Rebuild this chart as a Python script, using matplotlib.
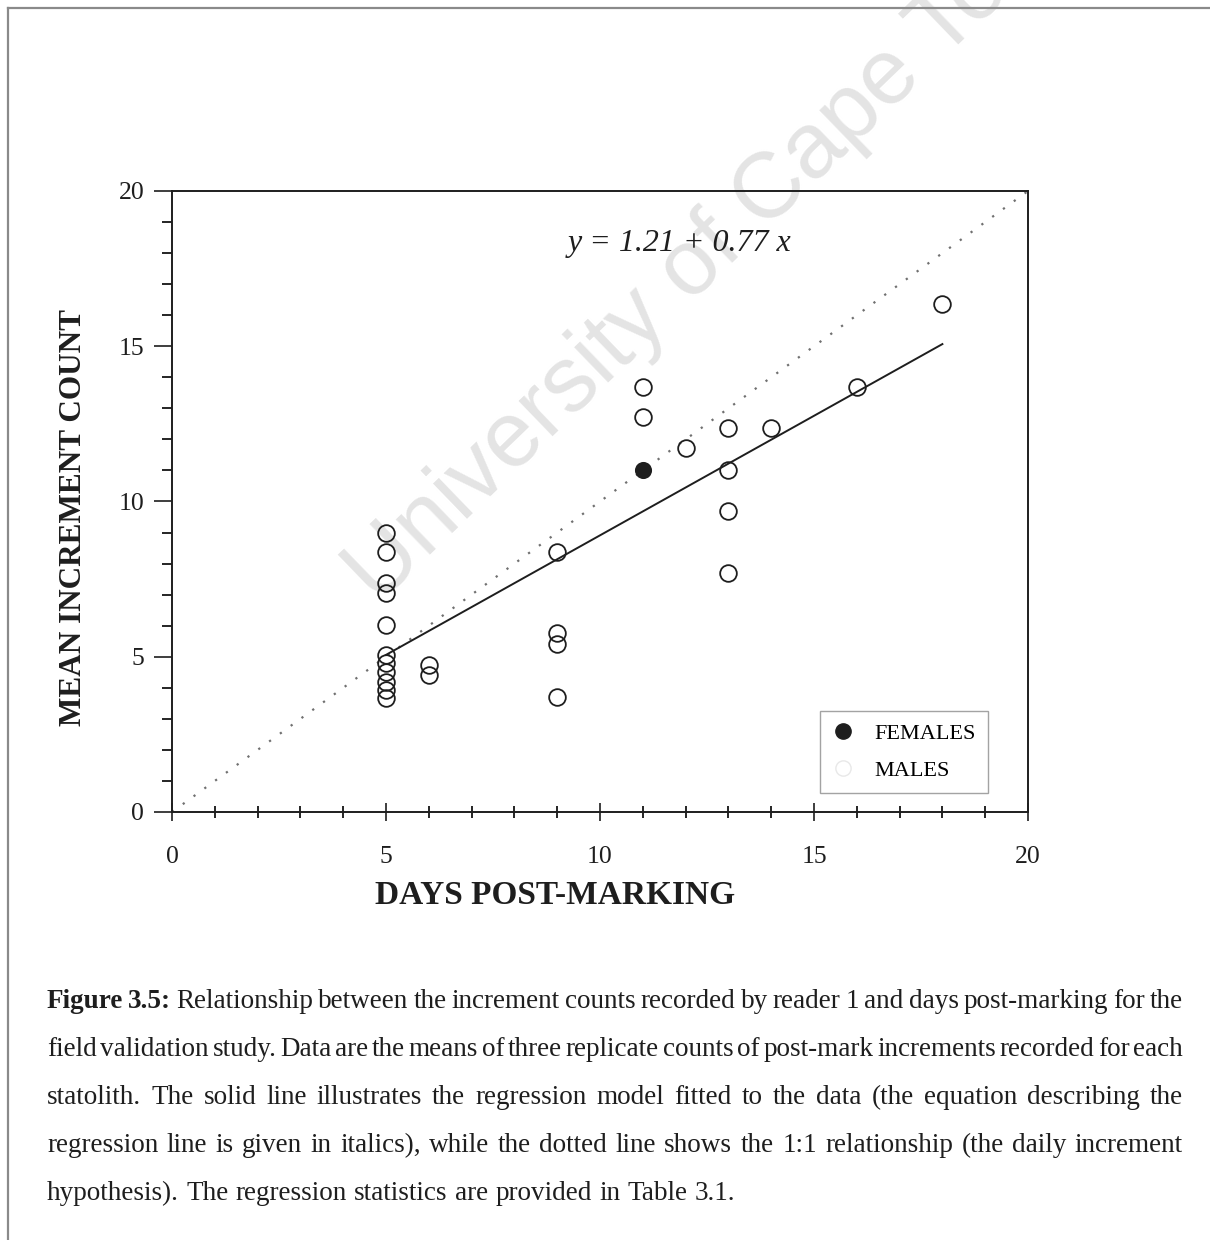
import matplotlib
matplotlib.use("Agg")
import matplotlib.pyplot as plt
from matplotlib.lines import Line2D
from matplotlib.ticker import MultipleLocator

# mean increment counts per statolith (days post-marking, count)
male_days = [5, 5, 5, 5, 5, 5, 5, 5, 5, 5, 5,
             6, 6,
             9, 9, 9, 9,
             11, 11,
             12,
             13, 13, 13, 13,
             14, 16, 18]
male_counts = [9.0, 8.36, 7.36, 7.04, 6.02, 5.07, 4.8, 4.5, 4.2, 3.92, 3.66,
               4.72, 4.4,
               8.37, 5.75, 5.42, 3.7,
               13.69, 12.72,
               11.72,
               12.37, 11.01, 9.68, 7.7,
               12.37, 13.69, 16.36]
female_days = [11]
female_counts = [11.01]

# regression y = a + b x
reg_a = 1.21
reg_b = 0.77
reg_x = [5, 18]

W, H = 1210, 1240
plt.rcParams['font.family'] = ['Liberation Serif', 'DejaVu Serif']
ink = '#1e1e1e'

fig = plt.figure(figsize=(W / 100, H / 100), dpi=100)
fig.patch.set_facecolor('white')

# page border lines (left and top)
fig.add_artist(Line2D([8 / W, 8 / W], [0, 1 - 8 / H], color='#8a8a8a', lw=1.6))
fig.add_artist(Line2D([8 / W, 1], [1 - 8 / H, 1 - 8 / H], color='#8a8a8a', lw=1.6))

# watermark
fig.text(378 / W, 1 - 605 / H, 'University of Cape Town', family='Liberation Sans',
         fontsize=67, color='#e4e4e4', rotation=44, rotation_mode='anchor',
         ha='left', va='baseline', zorder=-1)

ax = fig.add_axes([172 / W, 1 - 812 / H, 856 / W, 621 / H])
ax.patch.set_alpha(0)

# 1:1 line and fitted regression
ax.plot([0, 20], [0, 20], color='#707070', lw=1.6, linestyle=(0, (1, 5)))
ax.plot(reg_x, [reg_a + reg_b * x for x in reg_x], color=ink, lw=1.4)

ax.plot(male_days, male_counts, 'o', ms=12, mfc='none', mec=ink, mew=1.3)
ax.plot(female_days, female_counts, 'o', ms=11, mfc=ink, mec=ink, mew=1.3)

ax.text(11.87, 18.3, 'y = 1.21 + 0.77 x', style='italic', fontsize=23,
        ha='center', va='center', color=ink)

ax.set_xlim(0, 20)
ax.set_ylim(0, 20)
ax.xaxis.set_major_locator(MultipleLocator(5))
ax.xaxis.set_minor_locator(MultipleLocator(1))
ax.yaxis.set_major_locator(MultipleLocator(5))
ax.yaxis.set_minor_locator(MultipleLocator(1))

ax.tick_params(axis='x', which='major', direction='inout', length=13, width=1.2,
               pad=18, labelsize=18.5, colors=ink)
ax.tick_params(axis='x', which='minor', direction='inout', length=9, width=1.2)
ax.tick_params(axis='y', which='major', direction='out', length=13, width=1.2,
               pad=7, labelsize=18.5, colors=ink)
ax.tick_params(axis='y', which='minor', direction='out', length=7, width=1.2)
for s in ax.spines.values():
    s.set_linewidth(1.4)
    s.set_color(ink)

handles = [Line2D([], [], marker='o', ls='none', ms=11, mfc=ink, mec=ink),
           Line2D([], [], marker='o', ls='none', ms=11, mfc='none', mec='#e8e8e8')]
leg = ax.legend(handles, ['FEMALES', 'MALES'], loc='lower right',
                bbox_to_anchor=(0.953, 0.03), fontsize=16, frameon=True,
                fancybox=False, edgecolor='#8c8c8c', handlelength=1.0,
                handletextpad=0.9, labelspacing=0.75, borderpad=0.55,
                borderaxespad=0)
leg.get_frame().set_linewidth(1.0)

fig.text(555 / W, 1 - 895 / H, 'DAYS POST-MARKING', fontsize=24, weight='bold',
         ha='center', va='center', color=ink)
fig.text(74 / W, 1 - 517 / H, 'MEAN INCREMENT COUNT', fontsize=22.5, weight='bold',
         ha='center', va='center', rotation=90, color=ink)

# caption, justified between two margins
caption = [
    [('Figure', 'bold'), ('3.5:', 'bold'), 'Relationship', 'between', 'the',
     'increment', 'counts', 'recorded', 'by', 'reader', '1', 'and', 'days',
     'post-marking', 'for', 'the'],
    'field validation study.  Data are the means of three replicate counts of '
    'post-mark increments recorded for each'.split(' '),
    'statolith.  The solid line illustrates the regression model fitted to the '
    'data (the equation describing the'.split(' '),
    'regression line is given in italics), while the dotted line shows the 1:1 '
    'relationship (the daily increment'.split(' '),
    'hypothesis).  The regression statistics are provided in Table 3.1.'.split(' '),
]
cap_size = 19.5
left, right = 47, 1183
baselines = [1008, 1056, 1104, 1152, 1200]

fig.canvas.draw()
renderer = fig.canvas.get_renderer()
for i, line in enumerate(caption):
    texts = []
    for w in line:
        if w == '':
            continue
        word, weight = (w if isinstance(w, tuple) else (w, 'normal'))
        t = fig.text(0, 1 - baselines[i] / H, word, fontsize=cap_size,
                     weight=weight, ha='left', va='baseline', color=ink)
        texts.append(t)
    widths = [t.get_window_extent(renderer).width for t in texts]
    if i == len(caption) - 1:
        gap = cap_size * 100 / 72 * 0.27
    else:
        gap = (right - left - sum(widths)) / (len(texts) - 1)
    x = left
    for t, w in zip(texts, widths):
        t.set_x(x / W)
        x += w + gap

fig.savefig('out.png', dpi=100, facecolor='white')
